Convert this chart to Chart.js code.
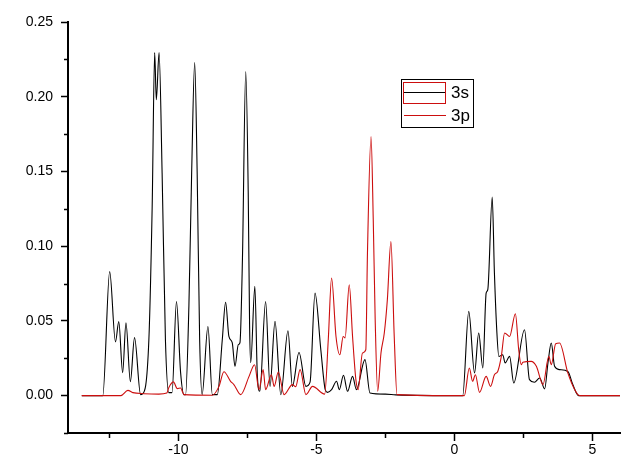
<!DOCTYPE html>
<html>
<head>
<meta charset="utf-8">
<script src="https://cdn.jsdelivr.net/npm/chart.js@4/dist/chart.umd.min.js"></script>
<style>
  html, body { margin: 0; padding: 0; background: #ffffff; }
  #wrap { width: 623px; height: 465px; }
</style>
</head>
<body>
<div id="wrap"><canvas id="c" width="623" height="465"></canvas></div>
<script>
// ---- Data ----
const seriesNames = ["3s", "3p"];

const energy3s = [-13.50, -12.74, -12.49, -12.28, -12.16, -12.02, -11.90, -11.74, -11.59, -11.37, -11.31, -11.07, -10.95, -10.86, -10.80, -10.70, -10.59, -10.47, -10.35, -10.23, -10.07, -9.92, -9.80, -9.74, -9.62, -9.52, -9.41, -9.32, -9.23, -9.14, -8.93, -8.77, -8.59, -8.41, -8.29, -8.17, -8.05, -7.95, -7.83, -7.77, -7.68, -7.56, -7.47, -7.42, -7.38, -7.23, -7.14, -7.05, -6.84, -6.68, -6.50, -6.29, -6.03, -5.87, -5.63, -5.38, -5.23, -5.05, -4.84, -4.68, -4.60, -4.45, -4.27, -4.17, -4.02, -3.87, -3.69, -3.55, -3.24, -3.06, -2.50, -2.12, 0.30, 0.52, 0.73, 0.88, 1.03, 1.15, 1.21, 1.37, 1.45, 1.54, 1.61, 1.75, 1.84, 2.00, 2.15, 2.54, 2.72, 2.90, 3.09, 3.27, 3.39, 3.51, 3.63, 3.81, 4.11, 4.29, 4.50, 6.00];
const dos3s = [0, 0, 0.083, 0.036, 0.0495, 0.0154, 0.0488, 0.0094, 0.0388, 0.0007, 0.001, 0.0374, 0.1265, 0.2295, 0.198, 0.2295, 0.149, 0.0374, 0.002, 0.002, 0.063, 0.0154, 0.0007, 0.0007, 0.0597, 0.149, 0.2228, 0.149, 0.0374, 0.0007, 0.0463, 0.0007, 0.0007, 0.0374, 0.0625, 0.0396, 0.0354, 0.0196, 0.0341, 0.0354, 0.0909, 0.2168, 0.1357, 0.0463, 0.022, 0.0731, 0.0134, 0.0029, 0.063, 0.0062, 0.0497, 0.0007, 0.0434, 0.0062, 0.0289, 0.0062, 0.009, 0.0686, 0.0307, 0.004, 0.0022, 0.004, 0.0096, 0.004, 0.0136, 0.0029, 0.0129, 0.004, 0.0241, 0.0018, 0.001, 0.0005, 0, 0.0564, 0.0152, 0.0419, 0.0185, 0.0686, 0.0709, 0.1328, 0.082, 0.0419, 0.0262, 0.0274, 0.0219, 0.0263, 0.0085, 0.0441, 0.0107, 0.009, 0.0118, 0.0045, 0.0219, 0.0352, 0.0196, 0.0174, 0.0162, 0.0074, 0, 0];

const energy3p = [-13.50, -12.09, -11.83, -11.65, -11.25, -10.71, -10.42, -10.35, -10.18, -10.04, -9.92, -9.80, -8.77, -8.53, -8.35, -8.11, -7.99, -7.74, -7.44, -7.24, -7.08, -6.93, -6.84, -6.63, -6.53, -6.38, -6.17, -5.87, -5.75, -5.59, -5.38, -5.14, -4.70, -4.57, -4.45, -4.29, -4.15, -4.03, -3.96, -3.81, -3.69, -3.57, -3.49, -3.33, -3.21, -3.15, -3.02, -2.94, -2.87, -2.78, -2.66, -2.54, -2.43, -2.30, -2.18, -2.08, 0.36, 0.54, 0.66, 0.76, 0.91, 1.15, 1.31, 1.45, 1.57, 1.70, 1.82, 2.00, 2.21, 2.33, 2.42, 2.48, 2.78, 2.97, 3.21, 3.42, 3.51, 3.67, 3.81, 4.11, 4.36, 4.54, 6.00];
const dos3p = [0, 0, 0.0035, 0.002, 0.0013, 0.001, 0.0017, 0.0053, 0.0092, 0.0047, 0.0051, 0.0007, 0.0003, 0.0062, 0.016, 0.0096, 0.0074, 0.0007, 0.0129, 0.0207, 0.004, 0.0174, 0.004, 0.014, 0.0062, 0.0158, 0.0007, 0.0074, 0.006, 0.0174, 0.0007, 0.0062, 0.001, 0.0374, 0.0787, 0.0396, 0.0274, 0.0396, 0.0386, 0.0742, 0.0396, 0.0107, 0.004, 0.0285, 0.0307, 0.0954, 0.1733, 0.1176, 0.0508, 0.0029, 0.0285, 0.0419, 0.064, 0.1031, 0.0396, 0.0007, 0, 0.0185, 0.0096, 0.014, 0.0022, 0.0129, 0.0062, 0.014, 0.0162, 0.0263, 0.0419, 0.0396, 0.0548, 0.0307, 0.0207, 0.0223, 0.0229, 0.0196, 0.0074, 0.0263, 0.0207, 0.0348, 0.0352, 0.0152, 0.004, 0, 0];

const xTickValues = [-10, -5, 0, 5];
const xMinorTickValues = [-12.5, -7.5, -2.5, 2.5];
const yTickValues = [0, 0.05, 0.10, 0.15, 0.20, 0.25];
const yMinorTickValues = [-0.025, 0.025, 0.075, 0.125, 0.175, 0.225];

// ---- Styling ----
const BLACK = '#000000';
const RED = '#cc0e0e';
const FONT = "'Liberation Sans', Arial, sans-serif";

function toPoints(xs, ys) { return xs.map((x, i) => ({ x: x, y: ys[i] })); }

const minorTicksAndLegend = {
  id: 'minorTicksAndLegend',
  afterDraw(chart) {
    const ctx = chart.ctx;
    const xs = chart.scales.x, ys = chart.scales.y;
    const area = chart.chartArea;
    ctx.save();
    ctx.strokeStyle = BLACK;
    ctx.lineWidth = 1.5;
    ctx.beginPath();
    xMinorTickValues.forEach(v => {
      const px = Math.round(xs.getPixelForValue(v)) + 0.5;
      ctx.moveTo(px, area.bottom);
      ctx.lineTo(px, area.bottom + 5);
    });
    yMinorTickValues.forEach(v => {
      const py = Math.round(ys.getPixelForValue(v)) + 0.5;
      ctx.moveTo(area.left - 4, py);
      ctx.lineTo(area.left, py);
    });
    ctx.stroke();

    // Legend box
    ctx.lineWidth = 1;
    ctx.strokeStyle = BLACK;
    ctx.strokeRect(401.5, 79.5, 72, 48);
    // 3s symbol: red hollow rectangle with black line
    ctx.strokeStyle = RED;
    ctx.strokeRect(403.5, 82.5, 42, 21);
    ctx.strokeStyle = BLACK;
    ctx.beginPath();
    ctx.moveTo(404, 92.5); ctx.lineTo(445, 92.5);
    ctx.stroke();
    // 3p symbol: red line
    ctx.strokeStyle = RED;
    ctx.beginPath();
    ctx.moveTo(404, 115.5); ctx.lineTo(446, 115.5);
    ctx.stroke();
    ctx.fillStyle = BLACK;
    ctx.font = '17px ' + FONT;
    ctx.textBaseline = 'alphabetic';
    ctx.textAlign = 'left';
    ctx.fillText(seriesNames[0], 451, 98);
    ctx.fillText(seriesNames[1], 451, 121);
    ctx.restore();
  }
};

const chart = new Chart(document.getElementById('c'), {
  type: 'line',
  data: {
    datasets: [
      { label: seriesNames[0], data: toPoints(energy3s, dos3s), borderColor: BLACK, borderWidth: 1.1, pointRadius: 0, cubicInterpolationMode: 'monotone', fill: false, order: 1 },
      { label: seriesNames[1], data: toPoints(energy3p, dos3p), borderColor: RED, borderWidth: 1.1, pointRadius: 0, cubicInterpolationMode: 'monotone', fill: false, order: 0 }
    ]
  },
  options: {
    responsive: false,
    animation: false,
    devicePixelRatio: 1,
    layout: { padding: { left: 0, right: 3, top: 22, bottom: 0 } },
    plugins: { legend: { display: false }, tooltip: { enabled: false }, title: { display: false } },
    scales: {
      x: {
        type: 'linear', position: 'bottom', min: -14, max: 6,
        afterBuildTicks: s => { s.ticks = xTickValues.map(v => ({ value: v })); },
        afterFit: s => { s.height = 32; },
        ticks: { color: BLACK, font: { family: FONT, size: 14 }, padding: 1, maxRotation: 0, autoSkip: false,
                 callback: v => String(v) },
        grid: { drawOnChartArea: false, drawTicks: true, tickLength: 8, tickColor: BLACK, tickWidth: 1.5 },
        border: { display: true, color: BLACK, width: 2 }
      },
      y: {
        type: 'linear', position: 'left', min: -0.025, max: 0.25,
        afterBuildTicks: s => { s.ticks = yTickValues.map(v => ({ value: v })); },
        afterFit: s => { s.width = 68; },
        ticks: { color: BLACK, font: { family: FONT, size: 14 }, padding: 8, autoSkip: false,
                 callback: v => Number(v).toFixed(2) },
        grid: { drawOnChartArea: false, drawTicks: true, tickLength: 7, tickColor: BLACK, tickWidth: 1.5 },
        border: { display: true, color: BLACK, width: 2 }
      }
    }
  },
  plugins: [minorTicksAndLegend]
});
</script>
</body>
</html>
